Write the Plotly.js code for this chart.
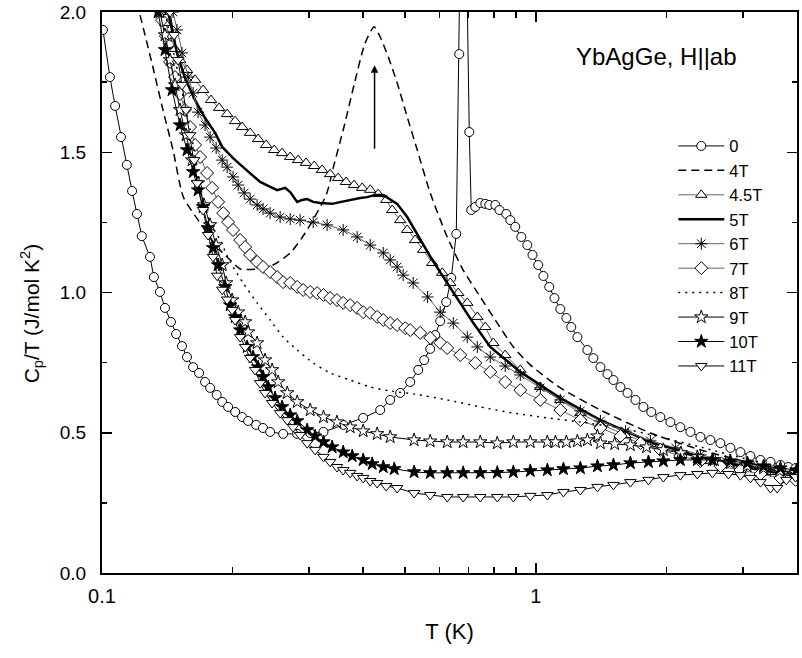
<!DOCTYPE html>
<html><head><meta charset="utf-8">
<script src="https://cdn.plot.ly/plotly-3.0.1.min.js"></script>
<style>html,body{margin:0;padding:0;background:#fff}#chart{width:802px;height:658px}</style>
</head><body><div id="chart"></div>
<script>
var seriesNames = ['0','4T','4.5T','5T','6T','7T','8T','9T','10T','11T'];

var T0 = [0.1005,0.1043,0.1072,0.1106,0.1141,0.1173,0.1204,0.1235,0.129,0.1317,0.136,0.1397,0.1442,0.1482,0.1529,0.157,0.1622,0.1674,0.1728,0.1775,0.1838,0.1893,0.1953,0.2028,0.2104,0.2172,0.2266,0.235,0.2441,0.2616,0.2818,0.3019,0.324,0.36,0.40,0.4378,0.4617,0.4868,0.5134,0.5357,0.553,0.5709,0.5863,0.6021,0.6216,0.6384,0.6556,0.666,0.680,0.7024,0.7099,0.7253,0.7447,0.7648,0.781,0.8066,0.8245,0.855,0.8733,0.8966,0.926,0.956,0.9826,1.013,1.041,1.074,1.104,1.139,1.176,1.207,1.247,1.315,1.357,1.409,1.463,1.51,1.567,1.627,1.697,1.77,1.846,1.937,2.043,2.154,2.272,2.396,2.526,2.664,2.809,2.963,3.124,3.295,3.475,3.664,3.82,3.97];
var C0 = [1.936,1.768,1.665,1.554,1.455,1.362,1.280,1.201,1.127,1.055,1.002,0.945,0.895,0.852,0.809,0.770,0.734,0.713,0.681,0.660,0.635,0.610,0.592,0.574,0.556,0.542,0.528,0.517,0.503,0.496,0.496,0.499,0.503,0.528,0.553,0.581,0.617,0.642,0.681,0.724,0.759,0.799,0.848,0.898,0.966,1.052,1.209,1.850,3.0,1.572,1.294,1.305,1.319,1.316,1.312,1.312,1.294,1.280,1.258,1.234,1.198,1.169,1.134,1.098,1.059,1.020,0.980,0.941,0.909,0.877,0.841,0.795,0.766,0.734,0.709,0.688,0.663,0.642,0.617,0.592,0.574,0.556,0.538,0.520,0.503,0.485,0.474,0.463,0.446,0.431,0.417,0.403,0.396,0.385,0.378,0.374];

var T4 = [0.1224,0.131,0.1382,0.1458,0.154,0.1683,0.1843,0.1974,0.2082,0.228,0.248,0.2715,0.294,0.3288,0.3415,0.3612,0.382,0.404,0.424,0.4378,0.4569,0.4792,0.5053,0.533,0.5709,0.6248,0.680,0.7447,0.815,0.8875,0.9712,1.139,1.409,1.837,2.396,3.124,3.99];
var C4 = [1.989,1.804,1.651,1.508,1.340,1.248,1.162,1.116,1.084,1.084,1.098,1.141,1.212,1.348,1.447,1.590,1.747,1.889,1.947,1.911,1.840,1.747,1.626,1.508,1.355,1.198,1.080,0.984,0.891,0.806,0.742,0.660,0.581,0.499,0.439,0.392,0.349];

var T45 = [0.1368,0.1397,0.1435,0.1474,0.1513,0.157,0.1639,0.171,0.1784,0.1862,0.1943,0.2027,0.2104,0.2195,0.229,0.239,0.2494,0.2601,0.2715,0.2832,0.2954,0.3084,0.3217,0.3357,0.3502,0.3653,0.3811,0.3979,0.4152,0.4332,0.452,0.4667,0.4868,0.5053,0.527,0.550,0.5771,0.6085,0.6349,0.6625,0.695,0.733,0.7648,0.798,0.850,0.9209,1.024,1.139,1.267,1.409,1.61,1.837,2.154,2.526,2.963,3.475,3.97];
var C45 = [2.0,1.961,1.914,1.868,1.829,1.793,1.758,1.722,1.686,1.658,1.636,1.611,1.590,1.569,1.547,1.526,1.508,1.497,1.483,1.472,1.462,1.451,1.437,1.422,1.408,1.394,1.383,1.373,1.366,1.351,1.330,1.294,1.258,1.223,1.187,1.152,1.105,1.070,1.034,0.998,0.963,0.913,0.877,0.820,0.777,0.724,0.663,0.617,0.570,0.531,0.492,0.460,0.428,0.399,0.378,0.360,0.346];

var T5 = [0.142,0.145,0.1489,0.1553,0.1639,0.1728,0.1823,0.1893,0.2005,0.2115,0.2218,0.2315,0.2416,0.2534,0.2644,0.2715,0.2818,0.2893,0.2971,0.3068,0.3183,0.3392,0.3558,0.3733,0.3937,0.4086,0.4263,0.445,0.4617,0.479,0.5053,0.5414,0.5771,0.6248,0.6695,0.7177,0.7852,0.9209,1.139,1.409,1.837,2.396,3.124,3.97];
var C5 = [2.0,1.936,1.854,1.765,1.686,1.622,1.569,1.519,1.479,1.447,1.419,1.394,1.380,1.365,1.373,1.358,1.323,1.330,1.333,1.323,1.319,1.316,1.323,1.330,1.337,1.340,1.348,1.348,1.333,1.316,1.269,1.187,1.116,1.034,0.963,0.891,0.806,0.717,0.624,0.545,0.467,0.414,0.374,0.346];

var T6 = [0.1458,0.1489,0.1529,0.1579,0.1622,0.1665,0.1728,0.1775,0.1833,0.1893,0.1943,0.2005,0.206,0.2127,0.2195,0.2278,0.2351,0.2441,0.2574,0.2715,0.2862,0.3068,0.3303,0.3597,0.3874,0.4152,0.445,0.4617,0.479,0.4946,0.5216,0.5632,0.6021,0.6453,0.695,0.733,0.7852,0.850,0.9209,1.024,1.139,1.267,1.409,1.61,1.837,2.1,2.396,2.74,3.124,3.475,3.97];
var C6 = [2.0,1.936,1.854,1.768,1.711,1.643,1.597,1.554,1.515,1.472,1.447,1.412,1.383,1.355,1.333,1.312,1.298,1.283,1.269,1.262,1.258,1.251,1.241,1.223,1.198,1.169,1.141,1.116,1.091,1.062,1.034,0.984,0.930,0.891,0.841,0.806,0.770,0.738,0.706,0.660,0.617,0.578,0.542,0.506,0.471,0.446,0.421,0.399,0.381,0.364,0.346];

var T7 = [0.1375,0.1404,0.1435,0.1474,0.1513,0.1553,0.1596,0.1639,0.1683,0.1747,0.1794,0.1852,0.1903,0.1953,0.2005,0.2082,0.2138,0.2195,0.2278,0.2351,0.2441,0.2534,0.2615,0.2715,0.2818,0.2908,0.3019,0.3133,0.324,0.3357,0.348,0.3597,0.3733,0.3874,0.4001,0.4152,0.4308,0.445,0.4617,0.479,0.5,0.5134,0.5414,0.5709,0.6021,0.6248,0.6695,0.7253,0.7852,0.850,0.9209,1.024,1.139,1.267,1.409,1.567,1.742,1.937,2.154,2.396,2.664,2.963,3.295,3.664,3.97];
var C7 = [1.971,1.914,1.822,1.768,1.708,1.651,1.590,1.526,1.483,1.426,1.373,1.323,1.283,1.251,1.223,1.187,1.162,1.134,1.109,1.091,1.073,1.055,1.037,1.034,1.020,1.009,1.002,0.998,0.991,0.980,0.973,0.963,0.955,0.945,0.930,0.927,0.913,0.902,0.891,0.884,0.873,0.866,0.856,0.838,0.820,0.802,0.777,0.749,0.717,0.681,0.652,0.617,0.581,0.545,0.517,0.488,0.463,0.439,0.417,0.399,0.381,0.367,0.353,0.339,0.332];

var T8 = [0.1397,0.145,0.1513,0.1579,0.1639,0.171,0.1775,0.1872,0.1974,0.2115,0.2278,0.2441,0.2615,0.2818,0.3068,0.3357,0.3733,0.4152,0.4617,0.5242,0.6248,0.7447,0.8875,1.063,1.267,1.567,1.937,2.396,3.124,3.97];
var C8 = [2.0,1.882,1.750,1.615,1.490,1.330,1.250,1.187,1.109,1.034,0.963,0.902,0.841,0.795,0.749,0.713,0.688,0.663,0.649,0.638,0.617,0.592,0.570,0.553,0.538,0.517,0.485,0.449,0.403,0.367];

var T9 = [0.136,0.1397,0.1435,0.1474,0.1513,0.1562,0.1613,0.1665,0.1719,0.1775,0.1833,0.1893,0.1933,0.1995,0.206,0.2138,0.2172,0.2278,0.2376,0.2467,0.2547,0.2673,0.2818,0.3019,0.324,0.348,0.3733,0.40,0.4308,0.4617,0.5242,0.5709,0.6248,0.680,0.7447,0.815,0.8875,0.9712,1.063,1.11,1.176,1.247,1.315,1.387,1.409,1.52,1.652,1.8,1.968,2.16,2.357,2.58,2.809,3.07,3.349,3.65,3.97];
var C9 = [2.0,1.918,1.829,1.740,1.651,1.561,1.472,1.390,1.312,1.241,1.169,1.098,1.034,0.973,0.930,0.895,0.859,0.820,0.759,0.724,0.681,0.642,0.610,0.581,0.556,0.538,0.520,0.506,0.496,0.485,0.474,0.470,0.467,0.467,0.467,0.463,0.467,0.467,0.467,0.467,0.467,0.470,0.474,0.488,0.463,0.460,0.456,0.449,0.439,0.428,0.414,0.403,0.392,0.381,0.374,0.364,0.357];

var T10 = [0.1347,0.1397,0.145,0.1513,0.157,0.1622,0.1665,0.171,0.1756,0.1803,0.1852,0.1923,0.1974,0.2027,0.2082,0.2161,0.2230,0.229,0.2351,0.2416,0.2506,0.2601,0.2715,0.2818,0.2971,0.31,0.324,0.3392,0.3597,0.3774,0.40,0.4196,0.445,0.4717,0.5242,0.5709,0.6248,0.680,0.7447,0.815,0.8875,0.9712,1.063,1.158,1.267,1.387,1.51,1.652,1.818,1.968,2.154,2.357,2.553,2.809,3.075,3.349,3.664,3.99];
var C10 = [2.0,1.865,1.722,1.597,1.508,1.430,1.365,1.305,1.230,1.159,1.098,1.020,0.955,0.913,0.866,0.806,0.770,0.734,0.699,0.663,0.624,0.592,0.563,0.542,0.510,0.488,0.467,0.449,0.431,0.417,0.403,0.389,0.378,0.371,0.360,0.357,0.357,0.357,0.357,0.358,0.360,0.364,0.367,0.371,0.374,0.381,0.385,0.392,0.396,0.399,0.403,0.403,0.403,0.399,0.392,0.381,0.374,0.367];

var T11 = [0.1435,0.1466,0.1497,0.1529,0.1562,0.1596,0.1631,0.1657,0.171,0.1756,0.1803,0.1843,0.1893,0.1943,0.1995,0.2027,0.2082,0.2138,0.2195,0.2254,0.2315,0.2376,0.2467,0.2574,0.2673,0.2758,0.2862,0.2971,0.31,0.324,0.3357,0.348,0.3597,0.3733,0.3874,0.40,0.4152,0.4308,0.452,0.479,0.5242,0.5709,0.6248,0.680,0.7447,0.815,0.8875,0.9712,1.063,1.158,1.267,1.387,1.51,1.652,1.818,1.968,2.154,2.357,2.553,2.78,2.963,3.124,3.295,3.475,3.6,3.78,3.97];
var C11 = [2.0,1.918,1.829,1.740,1.651,1.561,1.472,1.390,1.294,1.205,1.127,1.060,1.010,0.975,0.938,0.902,0.841,0.806,0.767,0.724,0.677,0.642,0.606,0.570,0.545,0.520,0.492,0.463,0.439,0.414,0.396,0.378,0.367,0.357,0.346,0.339,0.328,0.321,0.310,0.303,0.285,0.278,0.271,0.271,0.271,0.271,0.271,0.275,0.278,0.289,0.296,0.307,0.314,0.324,0.332,0.342,0.349,0.353,0.357,0.353,0.349,0.339,0.324,0.303,0.303,0.332,0.342];

var xTickVals = [0.1, 1, 4];
var xTickText = ['0.1', '1', '4'];
var xMinorVals = [0.2,0.3,0.4,0.5,0.6,0.7,0.8,0.9,2,3];
var yTickVals = [0, 0.5, 1.0, 1.5, 2.0];
var yTickText = ['0.0', '0.5', '1.0', '1.5', '2.0'];

var FONT = 'Liberation Sans, Arial, sans-serif';
function mk(sym, size, fill) {
  return {symbol: sym, size: size, color: fill || '#ffffff', line: {color: '#000', width: 1}};
}
var traces = [
  {x: T0, y: C0, name: seriesNames[0], mode: 'lines+markers', line: {color: '#000', width: 1}, marker: mk('circle', 9)},
  {x: T4, y: C4, name: seriesNames[1], mode: 'lines', line: {color: '#000', width: 1.5, dash: '8px,5px', shape: 'spline', smoothing: 0.6}},
  {x: T45, y: C45, name: seriesNames[2], mode: 'lines+markers', line: {color: '#666', width: 1}, marker: mk('triangle-up', 10)},
  {x: T5, y: C5, name: seriesNames[3], mode: 'lines', line: {color: '#000', width: 2.5}},
  {x: T6, y: C6, name: seriesNames[4], mode: 'lines+markers', line: {color: '#666', width: 1}, marker: {symbol: 'asterisk-open', size: 10, color: '#000', line: {color: '#000', width: 1}}},
  {x: T7, y: C7, name: seriesNames[5], mode: 'lines+markers', line: {color: '#666', width: 1}, marker: mk('diamond', 10)},
  {x: T8, y: C8, name: seriesNames[6], mode: 'lines', line: {color: '#000', width: 1.5, dash: '2px,5px', shape: 'spline', smoothing: 0.6}},
  {x: T9, y: C9, name: seriesNames[7], mode: 'lines+markers', line: {color: '#000', width: 1}, marker: mk('star', 10)},
  {x: T10, y: C10, name: seriesNames[8], mode: 'lines+markers', line: {color: '#000', width: 1}, marker: mk('star', 10, '#000')},
  {x: T11, y: C11, name: seriesNames[9], mode: 'lines+markers', line: {color: '#000', width: 1}, marker: mk('triangle-down', 10)}
];

var layout = {
  width: 802, height: 658,
  margin: {l: 102, r: 5, t: 12, b: 85},
  paper_bgcolor: '#fff', plot_bgcolor: '#fff',
  font: {family: FONT, size: 19, color: '#000'},
  showlegend: true,
  legend: {x: 0.822, y: 0.792, xanchor: 'left', yanchor: 'top', bgcolor: 'rgba(0,0,0,0)',
           font: {family: FONT, size: 16.5}, itemwidth: 46, tracegroupgap: 0},
  xaxis: {type: 'log', range: [-1, Math.log10(4)], showgrid: false, zeroline: false,
          showline: true, linewidth: 2, linecolor: '#000', mirror: 'ticks',
          ticks: 'inside', ticklen: 10, tickwidth: 1.5, tickcolor: '#000',
          tickmode: 'array', tickvals: xTickVals, ticktext: xTickText, ticklabelstandoff: 4,
          tickfont: {family: FONT, size: 20},
          minor: {tickmode: 'array', tickvals: xMinorVals, ticks: 'inside', ticklen: 6, tickwidth: 1.5, tickcolor: '#000'},
          title: {text: 'T (K)', font: {family: FONT, size: 22}, standoff: 18}},
  yaxis: {range: [0, 2], showgrid: false, zeroline: false,
          showline: true, linewidth: 2, linecolor: '#000', mirror: 'ticks',
          ticks: 'inside', ticklen: 10, tickwidth: 1.5, tickcolor: '#000',
          tickmode: 'array', tickvals: yTickVals, ticktext: yTickText, ticklabelstandoff: 10,
          tickfont: {family: FONT, size: 19},
          minor: {dtick: 0.25, ticks: 'inside', ticklen: 5, tickwidth: 1.5, tickcolor: '#000'}},
  annotations: [
    {xref: 'paper', yref: 'paper', x: -0.102, y: 0.463, textangle: -90,
     text: 'C<sub>p</sub>/T (J/mol K<sup>2</sup>)', showarrow: false,
     font: {family: FONT, size: 21}, xanchor: 'center', yanchor: 'middle'},
    {xref: 'paper', yref: 'paper', x: 0.798, y: 0.92, text: 'YbAgGe, H||ab', showarrow: false,
     font: {family: FONT, size: 24}, xanchor: 'center', yanchor: 'middle'},
    {xref: 'x', yref: 'y', x: Math.log10(0.4249), y: 1.81, text: '', showarrow: true,
     ax: 0, ay: 85, arrowhead: 2, arrowsize: 1, arrowwidth: 1.5, arrowcolor: '#000'}
  ]
};
Plotly.newPlot('chart', traces, layout, {displayModeBar: false, staticPlot: true});
</script></body></html>
